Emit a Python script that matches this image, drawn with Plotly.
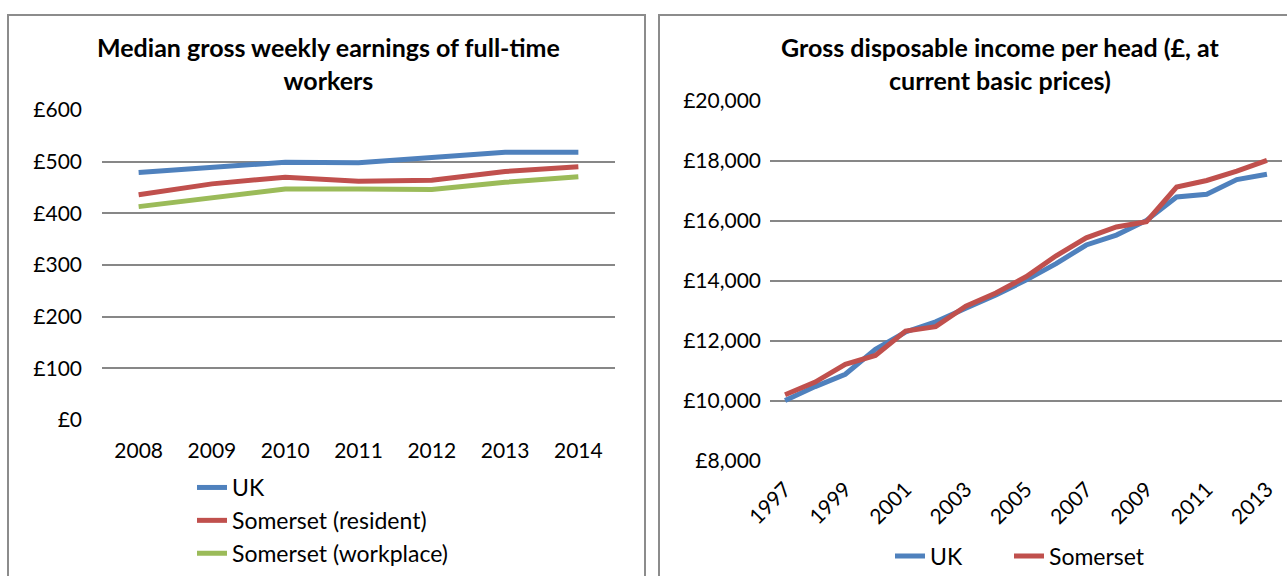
import plotly.graph_objects as go

# ---- data: left chart ----
years_left = ["2008", "2009", "2010", "2011", "2012", "2013", "2014"]
uk_weekly = [479, 489, 499, 498, 507, 518, 518]
som_resident = [436, 457, 470, 462, 464, 481, 490]
som_workplace = [413, 431, 447, 447, 446, 460, 471]

# ---- data: right chart ----
years_right = [str(y) for y in range(1997, 2014)]
uk_gdhi = [10020, 10480, 10890, 11720, 12300, 12640, 13090, 13530, 14030,
           14580, 15200, 15530, 16020, 16800, 16890, 17380, 17560]
som_gdhi = [10210, 10630, 11220, 11520, 12330, 12480, 13160, 13600, 14140,
            14840, 15440, 15800, 15980, 17130, 17350, 17660, 18020]

left_yticks = [0, 100, 200, 300, 400, 500, 600]
left_ytext = ["£0", "£100", "£200", "£300", "£400", "£500", "£600"]
right_yticks = [8000, 10000, 12000, 14000, 16000, 18000, 20000]
right_ytext = ["£8,000", "£10,000", "£12,000", "£14,000", "£16,000", "£18,000", "£20,000"]
right_xticks = years_right[::2]

BLUE = "#4F81BD"
RED = "#C0504D"
GREEN = "#9BBB59"
GRID = "#878787"
BORDER = "#8C8C8C"
FONT = "Lato"
W, H = 1287, 576


def px(x):
    """page pixel x -> paper fraction"""
    return x / W


def py(y):
    """page pixel y -> paper fraction"""
    return 1 - y / H


fig = go.Figure()
LW = 5
fig.add_trace(go.Scatter(x=years_left, y=uk_weekly, mode="lines", name="UK",
                         line=dict(color=BLUE, width=LW), xaxis="x", yaxis="y", legend="legend"))
fig.add_trace(go.Scatter(x=years_left, y=som_resident, mode="lines", name="Somerset (resident)",
                         line=dict(color=RED, width=LW), xaxis="x", yaxis="y", legend="legend"))
fig.add_trace(go.Scatter(x=years_left, y=som_workplace, mode="lines", name="Somerset (workplace)",
                         line=dict(color=GREEN, width=LW), xaxis="x", yaxis="y", legend="legend"))
fig.add_trace(go.Scatter(x=years_right, y=uk_gdhi, mode="lines", name="UK",
                         line=dict(color=BLUE, width=LW), xaxis="x2", yaxis="y2", legend="legend2"))
fig.add_trace(go.Scatter(x=years_right, y=som_gdhi, mode="lines", name="Somerset",
                         line=dict(color=RED, width=LW), xaxis="x2", yaxis="y2", legend="legend3"))

tickfont = dict(family=FONT, size=21, color="#000000")
legfont = dict(family=FONT, size=23, color="#000000")

fig.update_layout(
    template="none",
    width=W, height=H,
    margin=dict(l=0, r=0, t=0, b=0, autoexpand=False),
    paper_bgcolor="white", plot_bgcolor="white",
    font=dict(family=FONT, color="#000000"),
    xaxis=dict(type="category", domain=[px(102), px(615)], range=[-0.5, 6.5],
               showgrid=False, zeroline=False, showline=False, ticks="",
               tickfont=tickfont, ticklabelstandoff=16, anchor="y", automargin=False),
    yaxis=dict(domain=[py(420), py(110)], range=[0, 600], tickvals=left_yticks,
               ticktext=left_ytext, showgrid=True, gridcolor=GRID, gridwidth=1.8,
               zeroline=False, showline=False, ticks="", tickfont=tickfont,
               ticklabelstandoff=19, anchor="x", automargin=False),
    xaxis2=dict(type="category", domain=[px(770), px(1282)], range=[-0.5, 16.5],
                tickvals=right_xticks, ticktext=right_xticks, tickangle=-45,
                showgrid=False, zeroline=False, showline=False, ticks="",
                tickfont=tickfont, ticklabelstandoff=11, anchor="y2", automargin=False),
    yaxis2=dict(domain=[py(461), py(101)], range=[8000, 20000], tickvals=right_yticks,
                ticktext=right_ytext, showgrid=True, gridcolor=GRID, gridwidth=1.8,
                zeroline=False, showline=False, ticks="", tickfont=tickfont,
                ticklabelstandoff=8, anchor="x2", automargin=False),
    legend=dict(x=px(192), y=py(466), xanchor="left", yanchor="top",
                orientation="v", font=legfont, bgcolor="rgba(0,0,0,0)",
                tracegroupgap=0),
    legend2=dict(x=px(890), y=py(556), xanchor="left", yanchor="middle",
                 orientation="h", font=legfont, bgcolor="rgba(0,0,0,0)"),
    legend3=dict(x=px(1009), y=py(556), xanchor="left", yanchor="middle",
                 orientation="h", font=legfont, bgcolor="rgba(0,0,0,0)"),
    showlegend=True,
    annotations=[
        dict(text="<b>Median gross weekly earnings of full-time<br>workers</b>",
             x=px(328), y=py(63), xref="paper", yref="paper", xanchor="center",
             yanchor="middle", showarrow=False, font=dict(family=FONT, size=25)),
        dict(text="<b>Gross disposable income per head (£, at<br>current basic prices)</b>",
             x=px(1000), y=py(63), xref="paper", yref="paper", xanchor="center",
             yanchor="middle", showarrow=False, font=dict(family=FONT, size=25)),
    ],
    shapes=[
        dict(type="rect", xref="paper", yref="paper", x0=px(8), x1=px(645),
             y0=py(600), y1=py(15), line=dict(color=BORDER, width=2)),
        dict(type="rect", xref="paper", yref="paper", x0=px(659), x1=px(1320),
             y0=py(600), y1=py(15), line=dict(color=BORDER, width=2)),
    ],
)

# remove the default 8px body margin so the 1287x576 figure fills the page exactly
fig.write_html("out.html",
               config={"displayModeBar": False},
               post_script="document.body.style.margin='0px';document.body.style.overflow='hidden';")
